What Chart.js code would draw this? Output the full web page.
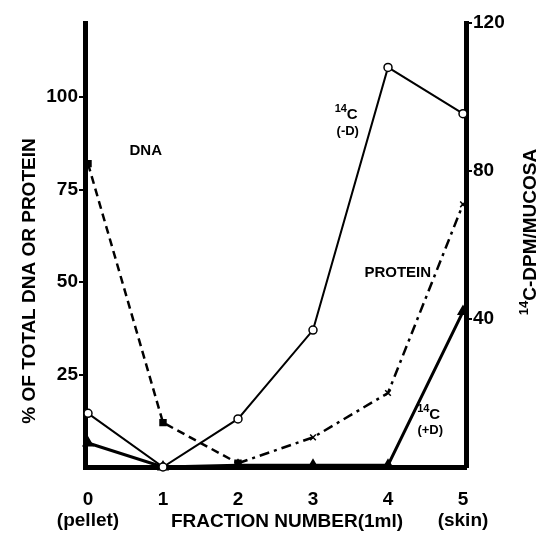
<!DOCTYPE html>
<html>
<head>
<meta charset="utf-8">
<script src="https://cdn.jsdelivr.net/npm/chart.js@4"></script>
<style>
  body { margin: 0; background: #fff; }
  canvas { display: block; }
</style>
</head>
<body>
<canvas id="chart" width="542" height="535"></canvas>
<script>
const fractions = [0, 1, 2, 3, 4, 5]
const xTickLabels = [["0", "(pellet)"], "1", "2", "3", "4", ["5", "(skin)"]]
const dnaPct = [82, 12, 1, null, null, null]
const proteinPct = [null, null, 1, 8, 20, 71]
const c14MinusD = [14.5, 0, 13, 37, 108, 95.5]
const c14PlusD = [6.5, 0, 0.5, 0.5, 0.5, 42]
const leftTicks = [25, 50, 75, 100]
const rightTicks = [40, 80, 120]

const FONT = "'Liberation Sans', Arial, sans-serif"
const toPoints = (arr) => fractions.map((f, i) => ({ x: f, y: arr[i] }))

// label text, anchored in data space (fraction, value)
const notes = [
  { text: "DNA", x: 0.77, y: 85.5 },
  { text: "PROTEIN", x: 4.13, y: 52.5 },
]
const isotopeNotes = [
  { x: 3.45, y: 94, tag: "(-D)" },
  { x: 4.55, y: 13, tag: "(+D)" },
]

const textPlugin = {
  id: "figText",
  afterDraw(chart) {
    const { ctx } = chart
    const xs = chart.scales.x, ys = chart.scales.y
    ctx.save()
    ctx.fillStyle = "#000"
    ctx.textAlign = "center"
    ctx.textBaseline = "middle"

    ctx.font = "bold 15px " + FONT
    notes.forEach(n => ctx.fillText(n.text, xs.getPixelForValue(n.x), ys.getPixelForValue(n.y)))

    isotopeNotes.forEach(n => {
      const px = xs.getPixelForValue(n.x), py = ys.getPixelForValue(n.y)
      ctx.textAlign = "left"
      ctx.font = "bold 11px " + FONT
      ctx.fillText("14", px - 12, py - 10)
      ctx.font = "bold 15px " + FONT
      ctx.fillText("C", px, py - 4)
      ctx.textAlign = "center"
      ctx.font = "bold 13px " + FONT
      ctx.fillText(n.tag, px + 1, py + 12)
    })

    // x title
    ctx.font = "bold 19px " + FONT
    ctx.textAlign = "center"
    ctx.fillText("FRACTION NUMBER(1ml)", 287, 522)

    // left title
    ctx.save()
    ctx.translate(30, 281)
    ctx.rotate(-Math.PI / 2)
    ctx.fillText("% OF TOTAL DNA OR PROTEIN", 0, 0)
    ctx.restore()

    // right title with superscript 14
    ctx.save()
    ctx.translate(531, 232)
    ctx.rotate(-Math.PI / 2)
    ctx.font = "bold 19px " + FONT
    const main = "C-DPM/MUCOSA"
    ctx.font = "bold 13px " + FONT
    const supW = ctx.measureText("14").width
    ctx.font = "bold 19px " + FONT
    const mainW = ctx.measureText(main).width
    const start = -(supW + mainW) / 2
    ctx.textAlign = "left"
    ctx.font = "bold 13px " + FONT
    ctx.fillText("14", start, -7)
    ctx.font = "bold 19px " + FONT
    ctx.fillText(main, start + supW, 0)
    ctx.restore()

    ctx.restore()
  }
}

const config = {
  type: "line",
  data: {
    datasets: [
      {
        label: "DNA",
        data: toPoints(dnaPct),
        yAxisID: "y",
        borderColor: "#000",
        backgroundColor: "#000",
        borderWidth: 2.5,
        borderDash: [8, 5],
        pointStyle: "rect",
        pointRadius: 3.5,
        clip: false,
      },
      {
        label: "PROTEIN",
        data: toPoints(proteinPct),
        yAxisID: "y",
        borderColor: "#000",
        backgroundColor: "#000",
        borderWidth: 2.5,
        borderDash: [10, 5, 3, 5],
        pointStyle: "crossRot",
        pointRadius: 4,
        pointBorderWidth: 1.5,
        clip: false,
      },
      {
        label: "14C (-D)",
        data: toPoints(c14MinusD),
        yAxisID: "y1",
        borderColor: "#000",
        backgroundColor: "#fff",
        borderWidth: 2,
        pointStyle: "circle",
        pointRadius: 4,
        pointBorderWidth: 1.5,
        clip: false,
      },
      {
        label: "14C (+D)",
        data: toPoints(c14PlusD),
        yAxisID: "y1",
        borderColor: "#000",
        backgroundColor: "#000",
        borderWidth: 3,
        pointStyle: "triangle",
        pointRadius: 4,
        clip: false,
      },
    ]
  },
  options: {
    responsive: false,
    animation: false,
    spanGaps: false,
    layout: { padding: { top: 23, left: 0, right: 0, bottom: 0 } },
    plugins: { legend: { display: false }, tooltip: { enabled: false } },
    scales: {
      x: {
        type: "linear",
        min: -0.04,
        max: 5.04,
        afterBuildTicks(scale) { scale.ticks = fractions.map(v => ({ value: v })) },
        afterFit(scale) { scale.height = 68 },
        grid: { display: false },
        border: { display: true, color: "#000", width: 5 },
        ticks: {
          color: "#000",
          padding: 14,
          maxRotation: 0,
          font: { family: FONT, size: 19, weight: "bold", lineHeight: 1.1 },
          callback: (value) => xTickLabels[fractions.indexOf(value)],
        },
      },
      y: {
        position: "left",
        min: 0,
        max: 120,
        afterBuildTicks(scale) { scale.ticks = leftTicks.map(v => ({ value: v })) },
        afterFit(scale) { scale.width = 85 },
        grid: { display: true, drawOnChartArea: false, drawTicks: true, tickLength: 6, color: "#000", lineWidth: 2 },
        border: { display: true, color: "#000", width: 5 },
        ticks: {
          color: "#000",
          padding: 1,
          font: { family: FONT, size: 19, weight: "bold" },
        },
      },
      y1: {
        position: "right",
        min: 0,
        max: 120,
        afterBuildTicks(scale) { scale.ticks = rightTicks.map(v => ({ value: v })) },
        afterFit(scale) { scale.width = 76 },
        grid: { display: true, drawOnChartArea: false, drawTicks: true, tickLength: 6, color: "#000", lineWidth: 2 },
        border: { display: true, color: "#000", width: 5 },
        ticks: {
          color: "#000",
          padding: 1,
          font: { family: FONT, size: 19, weight: "bold" },
        },
      },
    },
  },
  plugins: [textPlugin],
}

new Chart(document.getElementById("chart"), config)
</script>
</body>
</html>
